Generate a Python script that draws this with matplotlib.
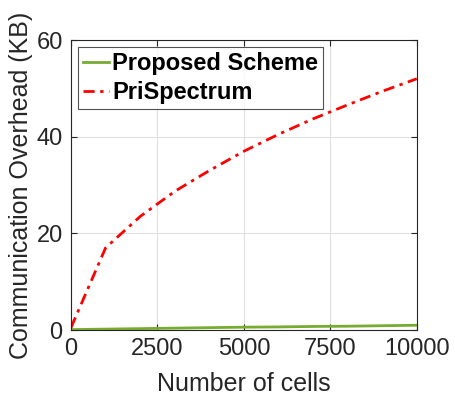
import numpy as np
from matplotlib import pyplot as plt

plt.rcParams['font.family'] = ['Liberation Sans', 'DejaVu Sans']

cells = [0, 1000, 2000, 3000, 4000, 5000, 6000, 7000, 8000, 9000, 10000]
proposed = [0.1, 0.2, 0.3, 0.4, 0.5, 0.6, 0.65, 0.75, 0.8, 0.9, 1.0]
prispectrum = [0.5, 17, 23.5, 28.7, 33, 37, 40.5, 43.7, 46.6, 49.4, 52]

fig = plt.figure(figsize=(4.55, 4.05), dpi=100)
ax = fig.add_axes([0.156, 0.185, 0.76, 0.716])

ax.plot(cells, proposed, color='#77AC30', lw=2, label='Proposed Scheme')
ax.plot(cells, prispectrum, color='#FF0000', lw=2, ls=(0, (4, 2, 1.2, 2)), label='PriSpectrum')

ax.set_xlim(0, 10000)
ax.set_ylim(0, 60)
ax.set_xticks([0, 2500, 5000, 7500, 10000])
ax.set_yticks([0, 20, 40, 60])
ax.grid(True, color='#e0e0e0', lw=0.8)
ax.set_axisbelow(True)
ax.tick_params(direction='in', labelsize=17, colors='#262626', length=4,
               top=True, right=True, pad=6)
for s in ax.spines.values():
    s.set_color('#262626')
    s.set_linewidth(0.8)

ax.set_xlabel('Number of cells', fontsize=18, color='#262626', labelpad=8)
ax.set_ylabel('Communication Overhead (KB)', fontsize=18, color='#262626', labelpad=2)

leg = ax.legend(loc='upper left', prop={'weight': 'bold', 'size': 17},
                frameon=True, fancybox=False, edgecolor='#262626',
                handlelength=1.1, handletextpad=0.15, borderpad=0.2,
                labelspacing=0.25, borderaxespad=0.3)
leg.get_frame().set_linewidth(0.8)

fig.savefig('out.png', dpi=100)
